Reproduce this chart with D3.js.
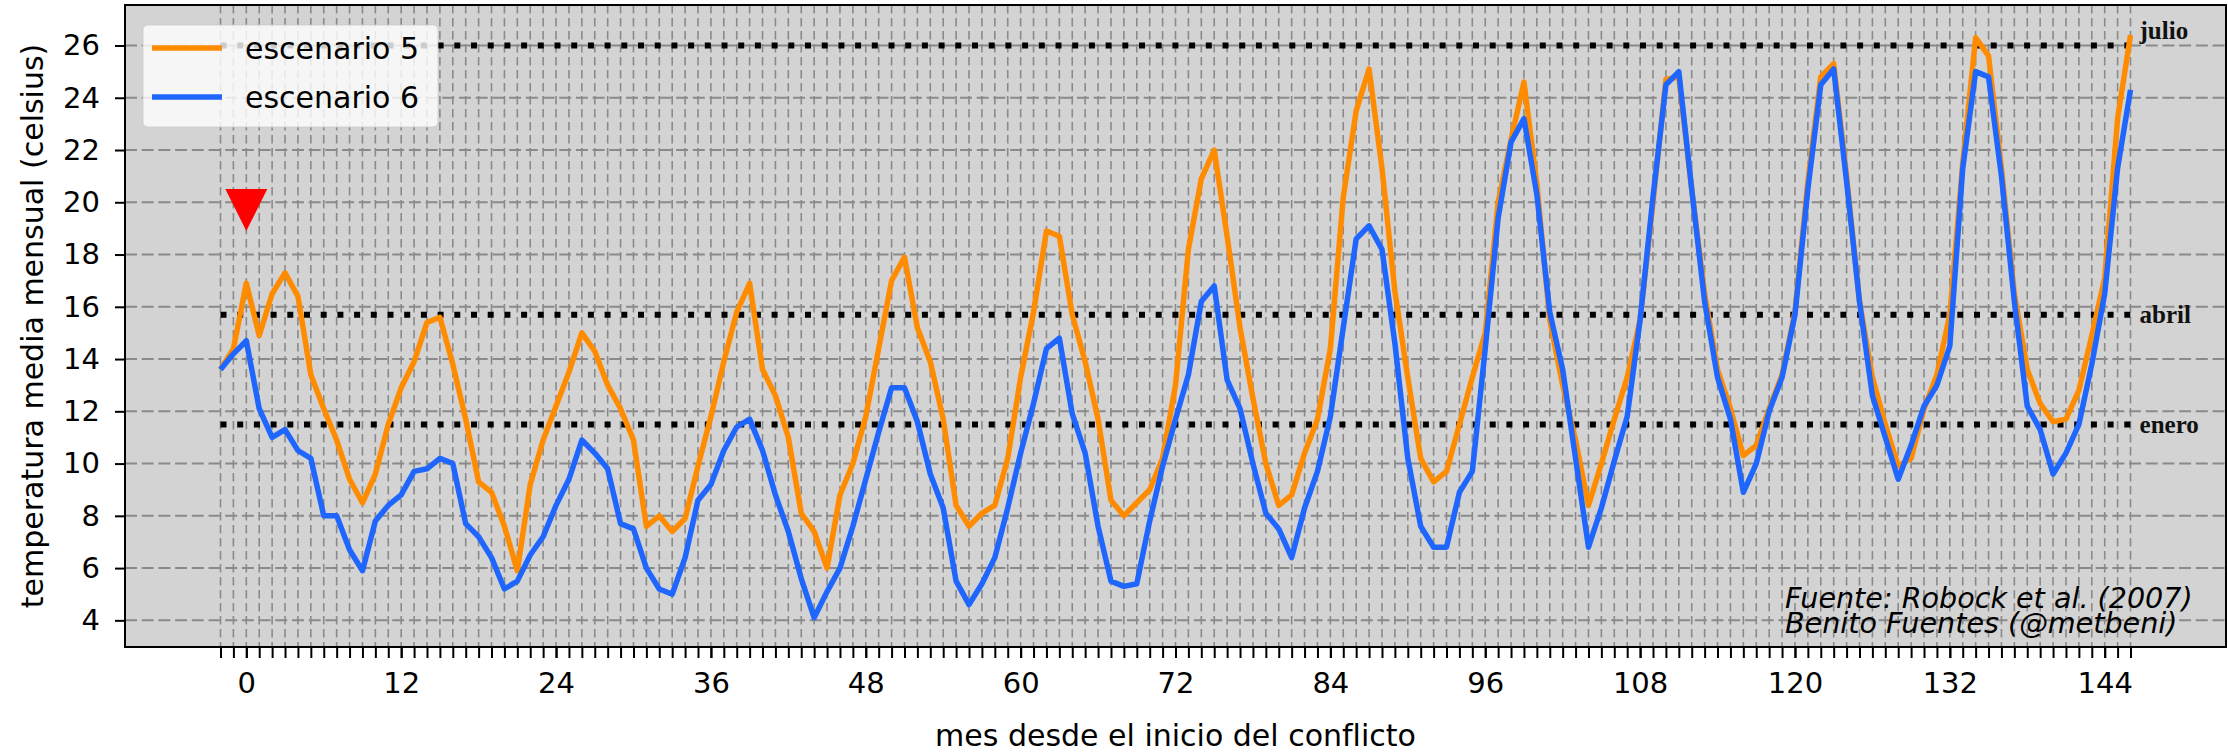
<!DOCTYPE html>
<html lang="es">
	<head>
		<meta charset="utf-8">
		<title>Temperatura media mensual</title>
		<script type="text/javascript" src="https://cdn.jsdelivr.net/npm/d3@7/dist/d3.min.js"></script>
		<style type="text/css">
			body { margin: 0; background: #ffffff; }
			text { font-family: "DejaVu Sans", sans-serif; fill: #000000; }
		</style>
	</head>
	<body>
		<script>
			// meses desde el inicio del conflicto (-2 .. 146)
			var months = d3.range(-2, 147);

			var escenario5 = [
				13.6, 14.4,
				16.9, 14.9, 16.5, 17.3, 16.4, 13.4, 12.1, 10.9, 9.4, 8.5, 9.6, 11.5,
				12.9, 13.9, 15.4, 15.6, 13.8, 11.7, 9.3, 8.9, 7.6, 5.9, 9.2, 10.9,
				12.2, 13.5, 15.0, 14.3, 13.0, 12.1, 10.9, 7.6, 8.0, 7.4, 7.9, 9.9,
				11.8, 13.9, 15.8, 16.9, 13.6, 12.6, 11.0, 8.1, 7.4, 6.0, 8.8, 10.0,
				11.8, 14.4, 17.0, 17.9, 15.2, 13.9, 11.7, 8.4, 7.6, 8.1, 8.4, 10.2,
				13.3, 15.8, 18.9, 18.7, 15.7, 13.9, 11.7, 8.6, 8.0, 8.5, 9.0, 10.2,
				13.0, 18.2, 20.9, 22.0, 18.7, 15.2, 12.5, 10.0, 8.4, 8.8, 10.4, 11.7,
				14.4, 20.2, 23.5, 25.1, 21.3, 16.6, 13.3, 10.2, 9.3, 9.7, 11.5, 13.3,
				15.0, 20.0, 22.4, 24.6, 20.7, 15.5, 13.0, 10.9, 8.4, 10.0, 11.7, 13.3,
				15.5, 20.0, 24.7, 24.8, 20.5, 16.5, 13.6, 12.1, 10.3, 10.7, 12.1, 13.4,
				15.8, 20.8, 24.8, 25.3, 21.0, 16.2, 13.3, 11.5, 9.9, 10.2, 12.1, 13.4,
				15.7, 21.5, 26.3, 25.6, 21.3, 16.5, 13.6, 12.3, 11.6, 11.7, 12.8, 14.9,
				17.1, 23.2, 26.4
			];

			var escenario6 = [
				13.6, 14.2,
				14.7, 12.1, 11.0, 11.3, 10.5, 10.2, 8.0, 8.0, 6.7, 5.9, 7.8, 8.4,
				8.8, 9.7, 9.8, 10.2, 10.0, 7.7, 7.2, 6.4, 5.2, 5.5, 6.5, 7.2,
				8.4, 9.4, 10.9, 10.4, 9.8, 7.7, 7.5, 6.0, 5.2, 5.0, 6.4, 8.6,
				9.2, 10.5, 11.4, 11.7, 10.5, 8.8, 7.4, 5.6, 4.1, 5.1, 6.0, 7.6,
				9.4, 11.2, 12.9, 12.9, 11.6, 9.6, 8.3, 5.5, 4.6, 5.4, 6.4, 8.3,
				10.4, 12.3, 14.4, 14.8, 11.9, 10.4, 7.6, 5.5, 5.3, 5.4, 7.8, 9.9,
				11.7, 13.4, 16.2, 16.8, 13.2, 12.1, 10.0, 8.1, 7.5, 6.4, 8.3, 9.7,
				11.8, 15.2, 18.6, 19.1, 18.2, 14.6, 10.2, 7.6, 6.8, 6.8, 8.9, 9.7,
				14.4, 19.4, 22.3, 23.2, 20.3, 15.8, 13.6, 10.2, 6.8, 8.3, 10.1, 11.8,
				15.5, 20.2, 24.5, 25.0, 20.5, 16.2, 13.3, 11.7, 8.9, 10.0, 12.0, 13.3,
				15.7, 20.5, 24.5, 25.1, 20.8, 16.2, 12.6, 11.0, 9.4, 10.7, 12.2, 13.0,
				14.5, 21.3, 25.0, 24.8, 21.0, 16.2, 12.2, 11.3, 9.6, 10.4, 11.5, 13.8,
				16.5, 21.3, 24.3
			];

			var xTicks = [0, 12, 24, 36, 48, 60, 72, 84, 96, 108, 120, 132, 144];
			var yTicks = [4, 6, 8, 10, 12, 14, 16, 18, 20, 22, 24, 26];

			// medias climatologicas de referencia
			var refValues = [26, 15.7, 11.5];
			var refLabels = ["julio", "abril", "enero"];

			// marcador del inicio del conflicto
			var markerMonth = 0,
				markerValue = 19.7;

			var seriesNames = ["escenario 5", "escenario 6"];
			var seriesColors = ["#ff8c00", "#1f66ff"];

			var margin = {top: 5, right: 2, bottom: 109, left: 125},
				outerWidth = 2228,
				outerHeight = 756,
				width = outerWidth - margin.left - margin.right,
				height = outerHeight - margin.top - margin.bottom;

			var svg = d3.select("body")
				.append("svg")
				.attr("width", outerWidth)
				.attr("height", outerHeight);

			var g = svg.append("g")
				.attr("transform", "translate(" + margin.left + "," + margin.top + ")");

			var x = d3.scaleLinear()
				.domain([-9.4, 153.4])
				.range([0, width]);

			var y = d3.scaleLinear()
				.domain([2.98, 27.55])
				.range([height, 0]);

			// fondo
			g.append("rect")
				.attr("width", width)
				.attr("height", height)
				.attr("fill", "#d3d3d3");

			// rejilla
			g.append("g")
				.selectAll("line")
				.data(months)
				.enter().append("line")
				.attr("x1", function(d) { return x(d); })
				.attr("x2", function(d) { return x(d); })
				.attr("y1", 0)
				.attr("y2", height)
				.attr("stroke", "#8a8a8a")
				.attr("stroke-width", 1.6)
				.attr("stroke-dasharray", "8.5,4.5");

			g.append("g")
				.selectAll("line")
				.data(yTicks)
				.enter().append("line")
				.attr("x1", 0)
				.attr("x2", width)
				.attr("y1", function(d) { return y(d); })
				.attr("y2", function(d) { return y(d); })
				.attr("stroke", "#8a8a8a")
				.attr("stroke-width", 2)
				.attr("stroke-dasharray", "12,4.7");

			// lineas de referencia punteadas
			g.append("g")
				.selectAll("line")
				.data(refValues)
				.enter().append("line")
				.attr("x1", x(months[0]))
				.attr("x2", x(months[months.length - 1]))
				.attr("y1", function(d) { return y(d); })
				.attr("y2", function(d) { return y(d); })
				.attr("stroke", "#000000")
				.attr("stroke-width", 6)
				.attr("stroke-dasharray", "6,10.7");

			g.append("g")
				.selectAll("text")
				.data(refValues)
				.enter().append("text")
				.attr("x", x(146.7))
				.attr("y", function(d, i) { return y(d) + (i === 0 ? -15 : 0); })
				.attr("dy", "0.35em")
				.style("font-family", "'Liberation Serif', serif")
				.style("font-weight", "bold")
				.style("font-size", "25px")
				.style("fill", "#111111")
				.text(function(d, i) { return refLabels[i]; });

			// series
			var line = d3.line()
				.x(function(d, i) { return x(months[i]); })
				.y(function(d) { return y(d); });

			[escenario5, escenario6].forEach(function(serie, k) {
				g.append("path")
					.datum(serie)
					.attr("d", line)
					.attr("fill", "none")
					.attr("stroke", seriesColors[k])
					.attr("stroke-width", 5.5)
					.attr("stroke-linejoin", "round");
			});

			// triangulo rojo
			var mx = x(markerMonth),
				my = y(markerValue),
				s = 21;
			g.append("path")
				.attr("d", "M" + (mx - s) + "," + (my - s) + "L" + (mx + s) + "," + (my - s) + "L" + mx + "," + (my + s) + "Z")
				.attr("fill", "#ff0000");

			// fuente
			var credit = g.append("text")
				.attr("x", width - 441)
				.attr("y", height - 39)
				.style("font-size", "28.6px")
				.style("font-style", "italic");
			credit.append("tspan").text("Fuente: Robock et al. (2007)");
			credit.append("tspan")
				.attr("x", width - 441)
				.attr("dy", 25)
				.text("Benito Fuentes (@metbeni)");

			// leyenda
			var legend = g.append("g")
				.attr("transform", "translate(18,20)");

			legend.append("rect")
				.attr("width", 295)
				.attr("height", 102)
				.attr("rx", 5)
				.attr("fill", "#ffffff")
				.attr("fill-opacity", 0.8)
				.attr("stroke", "#cccccc")
				.attr("stroke-opacity", 0.8);

			seriesNames.forEach(function(name, i) {
				legend.append("line")
					.attr("x1", 9)
					.attr("x2", 79)
					.attr("y1", 23 + i * 49)
					.attr("y2", 23 + i * 49)
					.attr("stroke", seriesColors[i])
					.attr("stroke-width", 5.5);
				legend.append("text")
					.attr("x", 102)
					.attr("y", 23 + i * 49)
					.attr("dy", "0.35em")
					.style("font-size", "30px")
					.text(name);
			});

			// ejes
			var xAxisMinor = g.append("g")
				.attr("transform", "translate(0," + height + ")")
				.call(d3.axisBottom(x).tickValues(months).tickSize(11).tickFormat(""));

			var xAxis = g.append("g")
				.attr("transform", "translate(0," + height + ")")
				.call(d3.axisBottom(x).tickValues(xTicks).tickSize(11).tickPadding(14).tickFormat(d3.format("d")));

			var yAxis = g.append("g")
				.call(d3.axisLeft(y).tickValues(yTicks).tickSize(10).tickPadding(15));

			[xAxisMinor, xAxis, yAxis].forEach(function(a) {
				a.select(".domain").remove();
				a.selectAll(".tick line").attr("stroke", "#000000").attr("stroke-width", 2);
				a.selectAll(".tick text")
					.style("font-family", "'DejaVu Sans', sans-serif")
					.style("font-size", "29px")
					.attr("fill", "#000000");
			});

			// borde
			g.append("rect")
				.attr("width", width)
				.attr("height", height)
				.attr("fill", "none")
				.attr("stroke", "#000000")
				.attr("stroke-width", 2);

			// titulos de ejes
			svg.append("text")
				.attr("x", margin.left + width / 2)
				.attr("y", 746)
				.attr("text-anchor", "middle")
				.style("font-size", "30px")
				.text("mes desde el inicio del conflicto");

			svg.append("text")
				.attr("transform", "translate(43," + (margin.top + height / 2) + ") rotate(-90)")
				.attr("text-anchor", "middle")
				.style("font-size", "30px")
				.text("temperatura media mensual (celsius)");
		</script>
	</body>
</html>
